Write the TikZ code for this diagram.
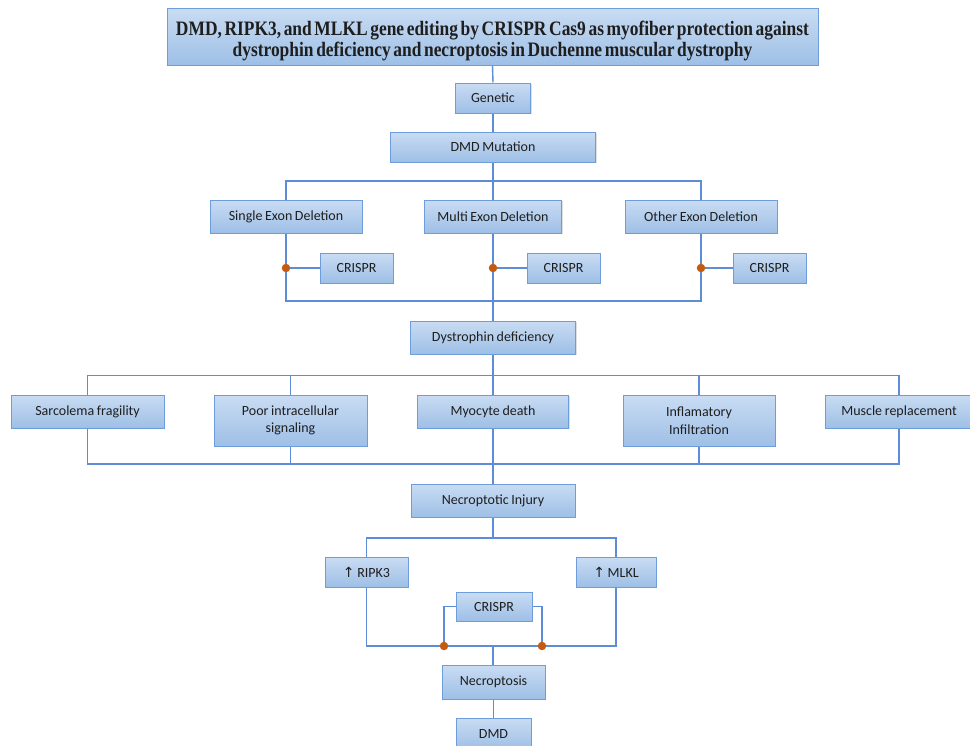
\documentclass[tikz,border=0pt]{standalone}
\usepackage{fontspec}
\setmainfont{Carlito}
\newfontfamily\titlefont[FakeStretch=0.85]{Liberation Serif}
\newfontfamily\symfont{DejaVu Sans}
\usetikzlibrary{shadows}
\definecolor{boxtop}{HTML}{C9DCF3}
\definecolor{boxbot}{HTML}{9EBFE6}
\definecolor{boxline}{HTML}{6D9DDA}
\definecolor{conn}{HTML}{5E8CD6}
\definecolor{dotc}{HTML}{C55A11}
\definecolor{txt}{HTML}{1E1E1E}
\tikzset{
  box/.style={draw=boxline, line width=1pt, top color=boxtop, bottom color=boxbot,
    inner sep=0pt, align=center, text=txt, font=\fontsize{14}{17.5}\selectfont,
    execute at begin node={\spaceskip=2.6pt plus 1pt\relax},
    drop shadow={shadow xshift=1.2pt, shadow yshift=-1.2pt, opacity=0.25}},
  link/.style={draw=conn, line width=1.4pt},
  joint/.style={circle, fill=dotc, inner sep=0pt, minimum size=8.5pt}
}
\newcommand{\bx}[6]{\node[box, minimum width=#4pt, minimum height=#5pt] (#1) at (#2,#3) {#6};}
\newcommand{\up}{{\symfont\fontsize{14}{14}\selectfont↑}}
\begin{document}
\begin{tikzpicture}[x=1pt, y=-1pt]
\clip (0,0) rectangle (970,745);
\fill[white] (0,0) rectangle (970,745);
% title
\node[box, minimum width=651pt, minimum height=57pt, font=\titlefont\bfseries\fontsize{20.5}{21.5}\selectfont] (title) at (492.5,36.5)
  {\raisebox{-10.5pt}[0pt][0pt]{\begin{tabular}{@{}c@{}}DMD, RIPK3, and MLKL gene editing by CRISPR Cas9 as myofiber protection against\\dystrophin deficiency and necroptosis in Duchenne muscular dystrophy\end{tabular}}};
\bx{genetic}{493}{98}{75}{30}{Genetic}
\bx{mut}{493}{147}{205}{30}{DMD Mutation}
\bx{single}{286}{216.5}{152}{33}{Single Exon Deletion}
\bx{multi}{493}{216.5}{137}{33}{Multi Exon Deletion}
\bx{other}{701}{216.5}{152}{33}{Other Exon Deletion}
\bx{cr1}{356.5}{268}{73}{30}{CRISPR}
\bx{cr2}{563.5}{268}{73}{30}{CRISPR}
\bx{cr3}{769.5}{268}{73}{30}{CRISPR}
\bx{dys}{493}{337.5}{165}{33}{Dystrophin deficiency}
\bx{sarc}{87.5}{411.5}{153}{33}{Sarcolema fragility}
\bx{poor}{290.5}{420.5}{153}{51}{Poor intracellular\\signaling}
\bx{myo}{493}{411.5}{151}{33}{Myocyte death}
\bx{infl}{699}{420.5}{152}{51}{Inflamatory\\Infiltration}
\bx{musc}{899}{411.5}{148}{33}{Muscle replacement}
\bx{inj}{493}{500.5}{164}{33}{Necroptotic Injury}
\bx{ripk}{366.5}{572}{83}{30}{\up\ RIPK3}
\bx{mlkl}{616}{572}{80}{30}{\up\ MLKL}
\bx{cr4}{494}{606.5}{76}{29}{CRISPR}
\bx{necro}{493.5}{682}{103}{34}{Necroptosis}
\bx{dmd}{493.5}{734}{75}{32}{DMD}
% coordinates
\coordinate (t1) at (493,181);
\coordinate (b1) at (493,301);
\coordinate (t2) at (493,375.5);
\coordinate (b2) at (493,464);
\coordinate (t3) at (493,538);
\coordinate (b3) at (493,646);
\coordinate (dl) at (444,646);
\coordinate (dr) at (542,646);
% connectors
\draw[link] (title.south) -- (genetic.north);
\draw[link] (genetic.south) -- (mut.north);
\draw[link] (mut.south) -- (multi.north);
\draw[link] (single.north) |- (t1) -| (other.north);
\draw[link] (single.south) |- (b1) -| (other.south);
\draw[link] (multi.south) -- (dys.north);
\coordinate (j1) at (single.south |- cr1.west);
\coordinate (j2) at (multi.south |- cr2.west);
\coordinate (j3) at (other.south |- cr3.west);
\draw[link] (j1) -- (cr1.west);
\draw[link] (j2) -- (cr2.west);
\draw[link] (j3) -- (cr3.west);
\draw[link] (dys.south) -- (myo.north);
\draw[link] (sarc.north) |- (t2) -| (musc.north);
\draw[link] (poor.north) -- (poor.north |- t2);
\draw[link] (infl.north) -- (infl.north |- t2);
\draw[link] (sarc.south) |- (b2) -| (musc.south);
\draw[link] (poor.south) -- (poor.south |- b2);
\draw[link] (infl.south) -- (infl.south |- b2);
\draw[link] (myo.south) -- (inj.north);
\draw[link] (inj.south) -- (t3);
\draw[link] (ripk.north) |- (t3) -| (mlkl.north);
\draw[link] (ripk.south) |- (b3) -| (mlkl.south);
\draw[link] (cr4.west) -| (dl);
\draw[link] (cr4.east) -| (dr);
\draw[link] (b3) -- (b3 |- necro.north);
\draw[link] (necro.south) -- (dmd.north);
\node[joint] (dot1) at (j1) {};
\node[joint] (dot2) at (j2) {};
\node[joint] (dot3) at (j3) {};
\node[joint] (dot4) at (dl) {};
\node[joint] (dot5) at (dr) {};
\end{tikzpicture}
\end{document}
